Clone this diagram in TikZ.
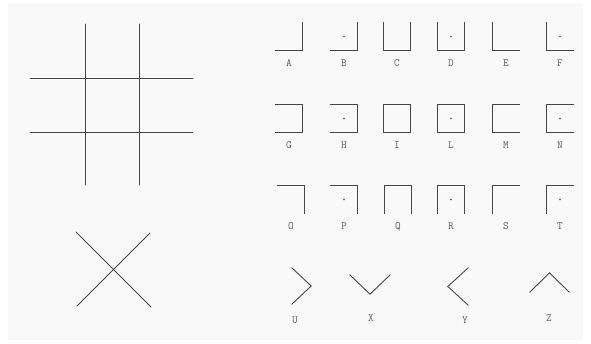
\documentclass[tikz,border=0pt]{standalone}
\usetikzlibrary{positioning}
\definecolor{cInk}{RGB}{70,70,70}
\definecolor{cTxt}{RGB}{90,90,90}
\definecolor{cBG} {RGB}{249,249,249}
\tikzset{
  %% empty cell, its sides are drawn from the anchors
  C/.style={rectangle, minimum width=27pt, minimum height=28pt, inner sep=0pt},
  %% chevron cell (width/height)
  V/.style 2 args={rectangle, minimum width=#1pt, minimum height=#2pt, inner sep=0pt},
  %% pen stroke
  L/.style={line width=0.9pt, draw=cInk, line cap=round},
  %% letter under a cell
  T/.style={font=\ttfamily\fontsize{11}{11}\selectfont, text=cTxt, inner sep=0pt},
  %% dot inside a cell
  Dt/.style={circle, fill=cInk, minimum size=1.7pt, inner sep=0pt},
}

\begin{document}
\begin{tikzpicture}[x=1pt, y=-1pt]

%% ════════════════════════════════════════════════
%%  FRAME
%% ════════════════════════════════════════════════
\fill[white] (0,0) rectangle (591,344);
\fill[cBG]   (8,3) rectangle (583,340);
\useasboundingbox (0,0) rectangle (591,344);

%% ════════════════════════════════════════════════
%%  LEFT  —  grid and cross
%% ════════════════════════════════════════════════
\foreach \x in {85,139}
  \draw[L] (\x,24) -- (\x,185);
\foreach \y in {78,132}
  \draw[L] (30,\y) -- (193,\y);

\draw[L] (76,232) -- (151,307);
\draw[L] (150,233) -- (77,306);

%% ════════════════════════════════════════════════
%%  CELLS  (columns 289 .. 560, rows 36.5 / 118.5 / 199.5)
%% ════════════════════════════════════════════════
\foreach \l/\x in {A/289, B/344, C/397, D/451, E/506, F/560}
  \node[C] (\l) at (\x, 36.5) {};
\foreach \l/\x in {G/289, H/344, I/397, L/451, M/506, N/560}
  \node[C] (\l) at (\x, 118.5) {};
\foreach \l/\x in {O/291, P/344, Q/398, R/451, S/506, T/560}
  \node[C] (\l) at (\x, 199.5) {};

%% letters
\foreach \l in {A,B,C,D,E,F,G,H,I,L,M,N,O,P,Q,R,S,T}
  \node[T, below=8.5pt of \l] (t\l) {\l};

%% ── row 1 ──
\foreach \l in {A,B}
  \draw[L] (\l.north east) -- (\l.south east) -- (\l.south west);
\foreach \l in {C,D}
  \draw[L] (\l.north west) -- (\l.south west) -- (\l.south east) -- (\l.north east);
\foreach \l in {E,F}
  \draw[L] (\l.north west) -- (\l.south west) -- (\l.south east);

%% ── row 2 ──
\foreach \l in {G,H}
  \draw[L] (\l.north west) -- (\l.north east) -- (\l.south east) -- (\l.south west);
\foreach \l in {I,L}
  \draw[L] (\l.north west) rectangle (\l.south east);
\foreach \l in {M,N}
  \draw[L] (\l.north east) -- (\l.north west) -- (\l.south west) -- (\l.south east);

%% ── row 3 ──
\foreach \l in {O,P}
  \draw[L] (\l.north west) -- (\l.north east) -- (\l.south east);
\foreach \l in {Q,R}
  \draw[L] (\l.south west) -- (\l.north west) -- (\l.north east) -- (\l.south east);
\foreach \l in {S,T}
  \draw[L] (\l.south west) -- (\l.north west) -- (\l.north east);

%% dots
\foreach \l in {B,D,F,H,L,N,P,R,T}
  \node[Dt] (d\l) at (\l) {};

%% ════════════════════════════════════════════════
%%  ROW 4  —  chevrons
%% ════════════════════════════════════════════════
\node[V={19}{36}] (U) at (301.5,286)   {};
\node[V={40}{19}] (X) at (370,284.5)   {};
\node[V={20}{37}] (Y) at (458,286.5)   {};
\node[V={39}{19}] (Z) at (549.5,282.5) {};

\draw[L] (U.north west) -- (U.east)  -- (U.south west);
\draw[L] (X.north west) -- (X.south) -- (X.north east);
\draw[L] (Y.north east) -- (Y.west)  -- (Y.south east);
\draw[L] (Z.south west) -- (Z.north) -- (Z.south east);

\node[T] (tU) at (295,320) {U};
\node[T] (tX) at (371,318) {X};
\node[T] (tY) at (465,320) {Y};
\node[T] (tZ) at (549,318) {Z};

\end{tikzpicture}
\end{document}
